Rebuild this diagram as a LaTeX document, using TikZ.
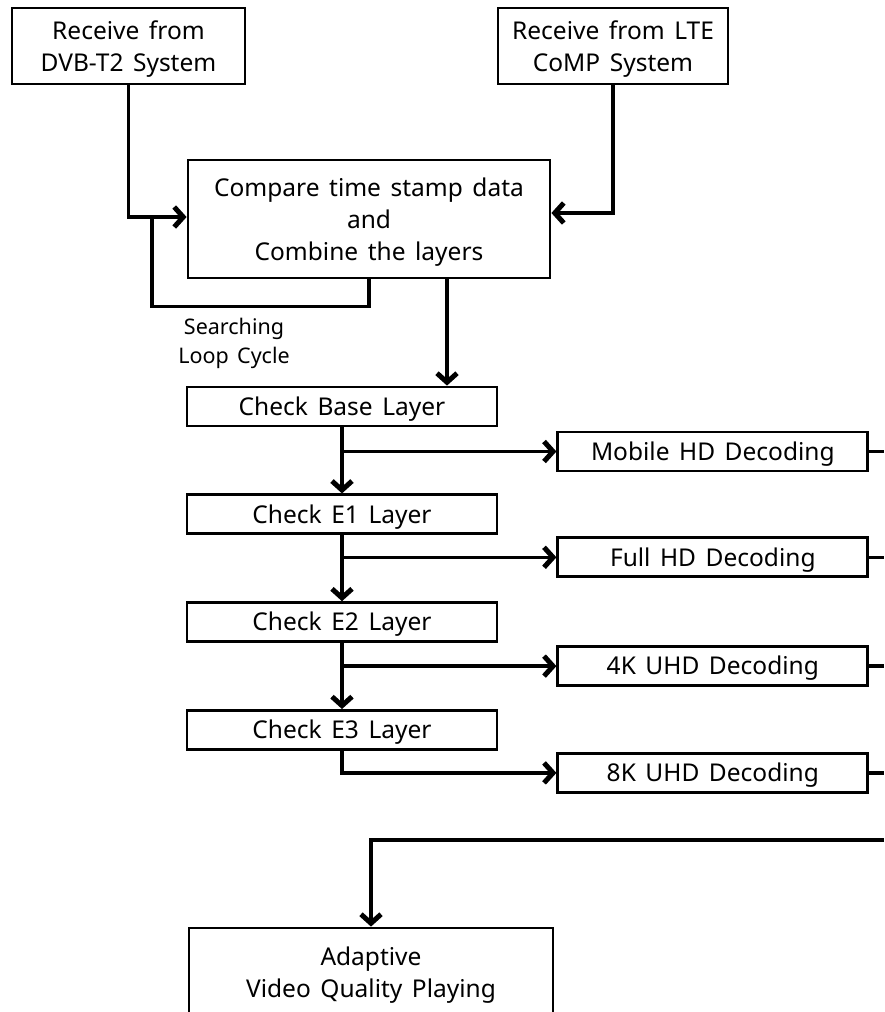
\documentclass[tikz,border=0pt]{standalone}
\usepackage{fontspec}
\setmainfont[WordSpace=1.5]{Noto Sans}
\usetikzlibrary{positioning, arrows.meta, calc}

\begin{document}
\begin{tikzpicture}[
                x=1pt, y=-1pt,
                node distance=66pt,
                >={Straight Barb[length=9pt,width=20pt,line width=5pt]},
                box/.style={draw, line width=2.8pt, align=center, inner sep=0pt,
                    text depth=-2pt, font=\fontsize{24.5}{32}\selectfont},
                check/.style={box, minimum width=310pt, minimum height=39pt, text depth=1pt},
                flow/.style={line width=3.6pt, ->},
                wire/.style={line width=3.6pt}
            ]
                \useasboundingbox (0,0) rectangle (884,1012);

                \node[box, minimum width=233pt, minimum height=76pt] (dvb) at (128.5,46) {Receive from\\DVB-T2 System};
                \node[box, minimum width=230pt, minimum height=76pt] (lte) at (613,46) {Receive from LTE\\CoMP System};
                \node[box, minimum width=362pt, minimum height=118pt] (cmp) at (369,219) {Compare time stamp data\\and\\Combine the layers};

                \node[check] (base) at (342,406.5) {Check Base Layer};
                \node[check] (e1) [below=of base] {Check E1 Layer};
                \node[check] (e2) [below=of e1] {Check E2 Layer};
                \node[check] (e3) [below=of e2] {Check E3 Layer};

                \node[check] (mob) [right=58pt of base, yshift=-45pt] {Mobile HD Decoding};
                \node[check] (full) [right=58pt of e1, yshift=-43pt] {Full HD Decoding};
                \node[check] (uhd4) [right=58pt of e2, yshift=-44pt] {4K UHD Decoding};
                \node[check] (uhd8) [right=58pt of e3, yshift=-43pt] {8K UHD Decoding};

                \node[box, minimum width=364pt, minimum height=110pt, text depth=22pt] (play) at (371,983) {Adaptive\\Video Quality Playing};

                \node[align=center, font=\fontsize{21.5}{29}\selectfont] (loop) at (234,343) {Searching\\Loop Cycle};

                \coordinate (loopend) at (152,217);
                \coordinate (drop) at ($(cmp.south)+(78,0)$);
                \coordinate (bus) at (884,840);

                % inputs
                \draw[flow] (dvb.south) |- (loopend -| cmp.west);
                \draw[flow] (lte.south) |- (cmp.east |- 0,213);
                \draw[wire] (cmp.south) -- ++(0,27) -| (loopend);
                \draw[flow] (drop) -- (drop |- base.north);

                % layer checks
                \draw[flow] (base) -- (e1);
                \draw[flow] (e1) -- (e2);
                \draw[flow] (e2) -- (e3);
                \draw[flow] (base.south |- mob.west) -- (mob.west);
                \draw[flow] (e1.south |- full.west) -- (full.west);
                \draw[flow] (e2.south |- uhd4.west) -- (uhd4.west);
                \draw[flow] (e3.south) |- (uhd8.west);

                % outputs
                \foreach \d in {mob, full, uhd4, uhd8}
                    \draw[wire] (\d.east) -- (\d.east -| bus);
                \draw[flow] (bus) -| (play.north);
            \end{tikzpicture}
\end{document}
